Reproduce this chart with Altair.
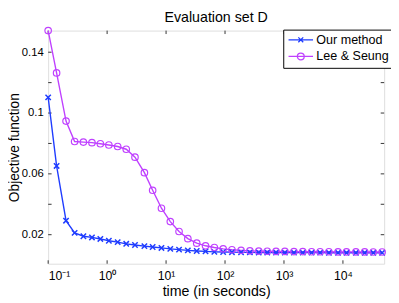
import altair as alt
import pandas as pd

# ---- data ----
time_s = [0.1, 0.139, 0.201, 0.281, 0.396, 0.553, 0.768, 1.07, 1.51, 2.11,
          2.97, 4.29, 5.92, 8.35, 11.8, 16.6, 23.4, 33.1, 46.7, 65.9,
          93, 131, 187, 264, 373, 520, 733, 1035, 1476, 2085,
          2940, 4100, 5780, 8260, 11500, 16600, 23400, 32700, 46200]
our_method = [0.1103, 0.0652, 0.0292, 0.0212, 0.0190, 0.0182, 0.0172, 0.0160, 0.0151, 0.0140,
              0.0132, 0.0125, 0.0119, 0.0113, 0.0107, 0.0102, 0.0097, 0.0093, 0.0090, 0.0087,
              0.0086, 0.0085, 0.0084, 0.0084, 0.0083, 0.0083, 0.0083, 0.0082, 0.0082, 0.0082,
              0.0082, 0.0082, 0.0081, 0.0081, 0.0081, 0.0081, 0.0081, 0.0081, 0.0081]
lee_seung = [0.1542, 0.1264, 0.0947, 0.0813, 0.0809, 0.0805, 0.0798, 0.0790, 0.0780, 0.0762,
             0.0710, 0.0608, 0.0492, 0.0374, 0.0286, 0.0221, 0.0174, 0.0144, 0.0127, 0.0116,
             0.0107, 0.0101, 0.0097, 0.0094, 0.0092, 0.0091, 0.0090, 0.0090, 0.0089, 0.0089,
             0.0088, 0.0088, 0.0088, 0.0087, 0.0087, 0.0087, 0.0087, 0.0086, 0.0086]
series_names = ["Our method", "Lee & Seung"]
series_colors = ["#1f3cff", "#bf40ff"]
x_ticks = [0.1, 1, 10, 100, 1000, 10000]
y_ticks = [0.02, 0.04, 0.06, 0.08, 0.10, 0.12, 0.14]
chart_title = "Evaluation set D"

rows = []
for t, v in zip(time_s, our_method):
    rows.append({"time": t, "value": v, "series": series_names[0]})
for t, v in zip(time_s, lee_seung):
    rows.append({"time": t, "value": v, "series": series_names[1]})
df = pd.DataFrame(rows)

W, H = 343, 238
FONT = "Liberation Sans"

xscale = alt.Scale(type="log", domain=[0.1, 50000], nice=False)
yscale = alt.Scale(domain=[0.0009, 0.1542], nice=False, zero=False)

label_expr = ("'10' + (datum.value < 0.5 ? '⁻¹' : datum.value < 5 ? '⁰' : datum.value < 50 ? '¹' : "
              "datum.value < 500 ? '²' : datum.value < 5000 ? '³' : '⁴')")

x_enc = alt.X("time:Q", scale=xscale,
              axis=alt.Axis(values=x_ticks, labelExpr=label_expr, title="time (in seconds)",
                            ticks=False, domain=False, grid=False, labelFontSize=12.5,
                            labelBaseline="alphabetic", labelPadding=16.5,
                            titleFontSize=14.5, titleX=W / 2, titleY=32, titleBaseline="alphabetic",
                            labelColor="#000", titleColor="#000", labelFont=FONT, titleFont=FONT,
                            titleFontWeight="normal"))
y_enc = alt.Y("value:Q", scale=yscale,
              axis=alt.Axis(values=y_ticks, labelExpr="format(datum.value, '.2~f')",
                            title="Objective function", ticks=False, domain=False, grid=False,
                            labelFontSize=11.5, labelPadding=5, titleFontSize=14,
                            titleX=-30.5, titleY=H / 2, titleBaseline="alphabetic", titleAngle=270,
                            labelColor="#000", titleColor="#000", labelFont=FONT, titleFont=FONT,
                            titleFontWeight="normal"))
color_scale = alt.Scale(domain=series_names, range=series_colors)
color_enc = alt.Color("series:N", scale=color_scale, legend=None)

base = alt.Chart(df)

lines = base.mark_line(strokeWidth=1.4, clip=False).encode(
    x=x_enc, y=y_enc, color=color_enc, detail="series:N")

cross_path = "M-1,-1L1,1M-1,1L1,-1"
pts_ours = base.transform_filter(alt.datum.series == series_names[0]).mark_point(
    shape=cross_path, size=30, strokeWidth=1.5, filled=False, opacity=1).encode(
    x=alt.X("time:Q", scale=xscale), y=alt.Y("value:Q", scale=yscale), color=color_enc)
pts_lee = base.transform_filter(alt.datum.series == series_names[1]).mark_point(
    shape="circle", size=44, strokeWidth=1.2, filled=False, opacity=1).encode(
    x=alt.X("time:Q", scale=xscale), y=alt.Y("value:Q", scale=yscale), color=color_enc)

# legend-only layer (no marks drawn); symbol = line sample with marker
leg_paths = ["M-1,0L4,0M1,-0.5L2,0.5M1,0.5L2,-0.5",
             "M-1,0L4,0M0.8,0A0.7,0.7,0,1,1,2.2,0A0.7,0.7,0,1,1,0.8,0"]
legend_layer = base.transform_filter("false").transform_calculate(lg="datum.series").mark_point(
    filled=False, opacity=1).encode(
    color=alt.Color("lg:N", scale=alt.Scale(domain=series_names, range=series_colors),
                    legend=alt.Legend(title=None, orient="none", legendX=240, legendY=-1,
                                      padding=4, strokeColor="#000", fillColor="#fff",
                                      labelFontSize=12.8, labelFont=FONT, labelColor="#000",
                                      symbolSize=100, symbolStrokeWidth=1.3, symbolOpacity=1,
                                      symbolFillColor="transparent", labelOffset=17,
                                      rowPadding=3, labelLimit=200)),
    shape=alt.Shape("lg:N", scale=alt.Scale(domain=series_names, range=leg_paths)))

tick_col = "#333"
tx = pd.DataFrame({"t": x_ticks})
ty = pd.DataFrame({"v": y_ticks})
xt_bottom = alt.Chart(tx).mark_rule(color=tick_col, strokeWidth=1).encode(
    x=alt.X("t:Q", scale=xscale), y=alt.value(H), y2=alt.value(H - 3.5))
xt_top = alt.Chart(tx).mark_rule(color=tick_col, strokeWidth=1).encode(
    x=alt.X("t:Q", scale=xscale), y=alt.value(0), y2=alt.value(3.5))
yt_left = alt.Chart(ty).mark_rule(color=tick_col, strokeWidth=1).encode(
    y=alt.Y("v:Q", scale=yscale), x=alt.value(0), x2=alt.value(3.5))
yt_right = alt.Chart(ty).mark_rule(color=tick_col, strokeWidth=1).encode(
    y=alt.Y("v:Q", scale=yscale), x=alt.value(W), x2=alt.value(W - 3.5))

title_mark = alt.Chart(pd.DataFrame({"txt": [chart_title]})).mark_text(
    font=FONT, fontSize=14.5, color="#000", align="center", baseline="alphabetic").encode(
    text="txt:N", x=alt.value(W / 2), y=alt.value(-8.5))

chart = alt.layer(xt_bottom, xt_top, yt_left, yt_right, lines, pts_ours, pts_lee, legend_layer,
                  title_mark).properties(
    width=W, height=H,
    autosize=alt.AutoSizeParams(type="none"),
    padding={"left": 41, "top": 20, "right": 7, "bottom": 37},
).resolve_scale(color="independent", shape="independent").resolve_legend(
    color="independent", shape="independent"
).configure_view(stroke="#262626", strokeWidth=1).configure(background="white")

chart.save("out.html", embed_options={"renderer": "svg", "actions": False})
